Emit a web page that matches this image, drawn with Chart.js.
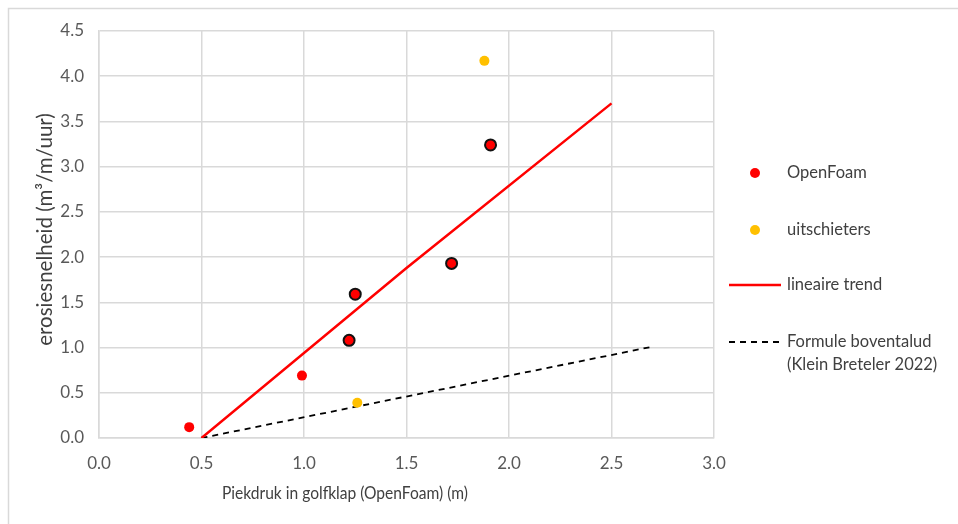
<!DOCTYPE html>
<html>
<head>
<meta charset="utf-8">
<script src="https://cdn.jsdelivr.net/npm/chart.js@4/dist/chart.umd.min.js"></script>
<style>
  html, body { margin: 0; padding: 0; background: #ffffff; }
  #wrap { width: 958px; height: 524px; position: relative; }
</style>
</head>
<body>
<div id="wrap"><canvas id="c" width="958" height="524"></canvas></div>
<script>
// Erosiesnelheid tegen piekdruk in golfklap
const openFoamX = [0.44, 0.99];
const openFoamY = [0.12, 0.69];
const gemarkeerdX = [1.22, 1.25, 1.72, 1.91];
const gemarkeerdY = [1.08, 1.59, 1.93, 3.24];
const uitschietersX = [1.26, 1.88];
const uitschietersY = [0.39, 4.17];
const trendX = [0.5, 1.5, 2.5];
const trendY = [0.0, 1.88, 3.70];
const formuleX = [0.5, 2.7];
const formuleY = [0.0, 1.01];
const xTicks = [0.0, 0.5, 1.0, 1.5, 2.0, 2.5, 3.0];
const yTicks = [0.0, 0.5, 1.0, 1.5, 2.0, 2.5, 3.0, 3.5, 4.0, 4.5];
const xTitle = 'Piekdruk in golfklap (OpenFoam) (m)';
const yTitle = 'erosiesnelheid (m³/m/uur)';

const legendItems = [
  { type: 'point', color: '#ff0000', text: ['OpenFoam'] },
  { type: 'point', color: '#ffc000', text: ['uitschieters'] },
  { type: 'line', color: '#ff0000', dash: [], text: ['lineaire trend'] },
  { type: 'line', color: '#000000', dash: [6, 5], text: ['Formule boventalud', '(Klein Breteler 2022)'] }
];

const pts = (xs, ys) => xs.map((x, i) => ({ x: x, y: ys[i] }));
const FONT = "Lato, 'Open Sans', sans-serif";

// Light frame, axis titles and a hand-placed legend on the right
const framePlugin = {
  id: 'frame',
  beforeDraw(chart) {
    const ctx = chart.ctx;
    ctx.save();
    ctx.strokeStyle = '#d9d9d9';
    ctx.lineWidth = 1.5;
    ctx.beginPath();
    ctx.moveTo(8.5, 530);
    ctx.lineTo(8.5, 8.5);
    ctx.lineTo(960, 8.5);
    ctx.stroke();
    ctx.restore();
  },
  afterDraw(chart) {
    const ctx = chart.ctx;
    const area = chart.chartArea;
    ctx.save();
    ctx.fillStyle = '#404040';
    ctx.textBaseline = 'middle';
    ctx.textAlign = 'center';
    ctx.font = "17.5px " + FONT;
    ctx.fillText(xTitle, 345, 493, 246);
    ctx.save();
    ctx.translate(45, (area.top + area.bottom) / 2 - 5);
    ctx.rotate(-Math.PI / 2);
    ctx.font = "20.5px " + FONT;
    ctx.fillText(yTitle, 0, 0, 236);
    ctx.restore();

    const rows = [173, 230, 285, 342];
    ctx.font = "16.5px " + FONT;
    ctx.textAlign = 'left';
    legendItems.forEach((it, i) => {
      const y = rows[i];
      if (it.type === 'point') {
        ctx.fillStyle = it.color;
        ctx.beginPath();
        ctx.arc(755, y, 5, 0, Math.PI * 2);
        ctx.fill();
      } else {
        ctx.strokeStyle = it.color;
        ctx.lineWidth = it.dash.length ? 1.8 : 2.5;
        ctx.setLineDash(it.dash);
        ctx.beginPath();
        ctx.moveTo(729, y);
        ctx.lineTo(781, y);
        ctx.stroke();
        ctx.setLineDash([]);
      }
      ctx.fillStyle = '#404040';
      it.text.forEach((t, k) => ctx.fillText(t, 787, y + k * 23));
    });
    ctx.restore();
  }
};

new Chart(document.getElementById('c'), {
  type: 'scatter',
  data: {
    datasets: [
      {
        label: 'Formule boventalud (Klein Breteler 2022)',
        data: pts(formuleX, formuleY),
        showLine: true,
        borderColor: '#000000',
        borderWidth: 1.8,
        borderDash: [6, 5],
        pointRadius: 0,
        order: 4
      },
      {
        label: 'lineaire trend',
        data: pts(trendX, trendY),
        showLine: true,
        borderColor: '#ff0000',
        borderWidth: 2.5,
        pointRadius: 0,
        order: 3
      },
      {
        label: 'OpenFoam',
        data: pts(openFoamX, openFoamY),
        backgroundColor: '#ff0000',
        borderColor: '#ff0000',
        borderWidth: 0,
        pointRadius: 5,
        order: 2
      },
      {
        label: 'OpenFoam',
        data: pts(gemarkeerdX, gemarkeerdY),
        backgroundColor: '#ff0000',
        borderColor: '#111111',
        borderWidth: 2,
        pointRadius: 5.5,
        order: 1
      },
      {
        label: 'uitschieters',
        data: pts(uitschietersX, uitschietersY),
        backgroundColor: '#ffc000',
        borderColor: '#ffc000',
        borderWidth: 0,
        pointRadius: 5,
        order: 0
      }
    ]
  },
  options: {
    responsive: false,
    animation: false,
    layout: { padding: { left: 0, top: 31, right: 244, bottom: 0 } },
    plugins: {
      legend: { display: false },
      tooltip: { enabled: false }
    },
    elements: { point: { hoverRadius: 5 } },
    scales: {
      x: {
        type: 'linear',
        min: 0,
        max: 3,
        afterBuildTicks: s => { s.ticks = xTicks.map(v => ({ value: v })); },
        afterFit: s => { s.height = 524 - 438; },
        ticks: {
          padding: 15,
          color: '#595959',
          font: { family: FONT, size: 17 },
          callback: v => Number(v).toFixed(1)
        },
        grid: { color: '#d9d9d9', lineWidth: 1.5, drawTicks: false },
        border: { color: '#d9d9d9', width: 1.5 }
      },
      y: {
        type: 'linear',
        min: 0,
        max: 4.5,
        afterBuildTicks: s => { s.ticks = yTicks.map(v => ({ value: v })); },
        afterFit: s => { s.width = 99; },
        ticks: {
          padding: 15,
          color: '#595959',
          font: { family: FONT, size: 17 },
          callback: v => Number(v).toFixed(1)
        },
        grid: { color: '#d9d9d9', lineWidth: 1.5, drawTicks: false },
        border: { color: '#d9d9d9', width: 1.5 }
      }
    }
  },
  plugins: [framePlugin]
});
</script>
</body>
</html>
